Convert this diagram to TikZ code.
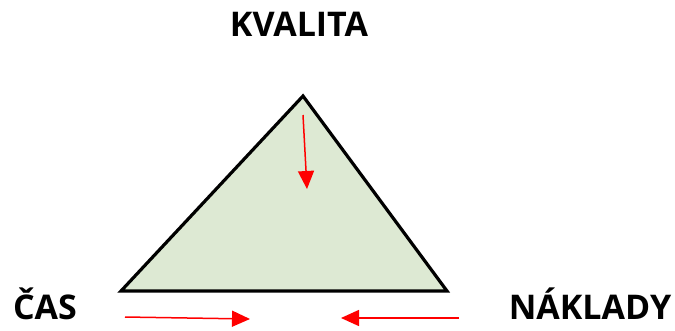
\documentclass[tikz,border=0pt]{standalone}
\usepackage{fontspec}
\setmainfont{Open Sans}
\usetikzlibrary{arrows.meta,positioning}

\tikzset{
	redarrow/.style={-{Triangle[length=18pt,width=16pt]}, red, line width=1.5pt}
}

\begin{document}
\begin{tikzpicture}[x=1pt, y=-1pt,
	every node/.style={font=\fontsize{34}{38}\selectfont\bfseries}]
	\useasboundingbox (0,0) rectangle (675,330);
	% triangle
	\coordinate (top) at (303,96);
	\coordinate (left) at (121,291);
	\coordinate (right) at (447,291);
	\draw[line width=3.2pt, line join=miter, fill={rgb,255:red,221;green,233;blue,211}] (top) -- (left) -- (right) -- cycle;
	% labels
	\node (kvalita) at (299,24) {KVALITA};
	\node (cas) at (45,304) {ČAS};
	\node (naklady) at (590,304) {NÁKLADY};
	% red arrows
	\coordinate (a1) at (303,115);
	\coordinate (a2) at (307,189);
	\coordinate (b1) at (125,317);
	\coordinate (b2) at (250,319);
	\coordinate (c1) at (459,318);
	\coordinate (c2) at (341,318);
	\draw[redarrow] (a1) -- (a2);
	\draw[redarrow] (b1) -- (b2);
	\draw[redarrow] (c1) -- (c2);
\end{tikzpicture}
\end{document}
